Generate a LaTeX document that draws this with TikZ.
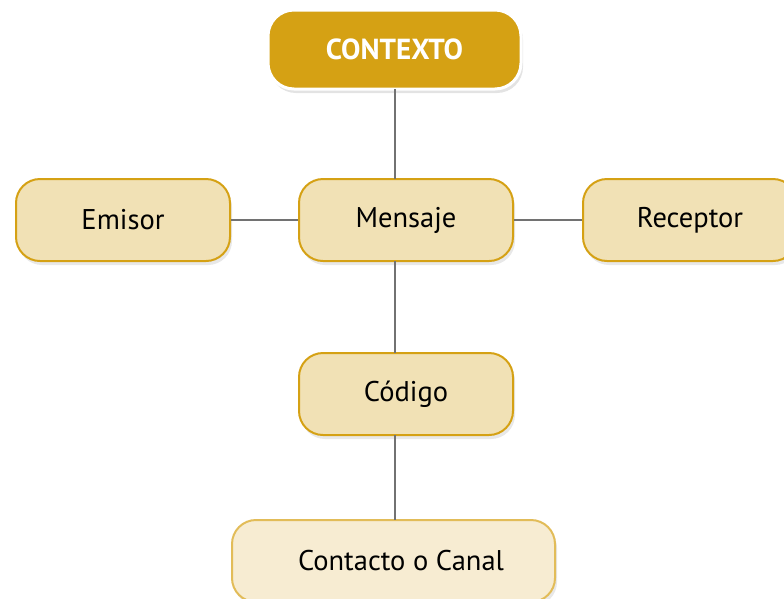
\documentclass[tikz,border=0pt]{standalone}
\usepackage{fontspec}
\setmainfont{PT Sans}
\usetikzlibrary{shadows}
\definecolor{gold}{HTML}{D5A114}
\definecolor{lightfill}{HTML}{F1E1B5}
\definecolor{paler}{HTML}{F7ECD2}
\definecolor{palebord}{HTML}{E2BC58}
\definecolor{linecol}{HTML}{727272}
\tikzset{
  box/.style={rounded corners=24pt, draw=gold, line width=2pt, fill=lightfill,
    minimum width=214pt, minimum height=82pt, font=\fontsize{28.5}{33}\selectfont, text=black,
    drop shadow={opacity=0.18, shadow xshift=2pt, shadow yshift=-4pt}},
  palebox/.style={box, fill=paler, draw=palebord},
  topbox/.style={rounded corners=26pt, draw=white, line width=3pt, fill=gold,
    minimum width=253pt, minimum height=79pt, font=\fontsize{29}{34}\selectfont\bfseries, text=white,
    drop shadow={opacity=0.22, shadow xshift=2pt, shadow yshift=-4pt}},
  conn/.style={draw=linecol, line width=2.8pt}
}
\begin{document}
\begin{tikzpicture}[x=1pt,y=1pt]
\useasboundingbox (0,0) rectangle (784,-598);
\node[topbox] (ctx) at (394.5,-49.5) {CONTEXTO};
\node[box] (emi) at (123,-220) {Emisor};
\node[box] (men) at (406,-220) {Mensaje};
\node[box] (rec) at (690,-220) {Receptor};
\node[box] (cod) at (406,-394) {Código};
\node[palebox, minimum width=323pt] (can) at (393.5,-561) {\hspace*{15pt}Contacto o Canal};
\coordinate (a1) at (395,-89);
\coordinate (a2) at (395,-179);
\coordinate (b1) at (395,-261);
\coordinate (b2) at (395,-353);
\coordinate (c1) at (395,-435);
\coordinate (c2) at (395,-520);
\draw[conn] (a1) -- (a2);
\draw[conn] (b1) -- (b2);
\draw[conn] (c1) -- (c2);
\draw[conn] (emi.east) -- (men.west);
\draw[conn] (men.east) -- (rec.west);
\end{tikzpicture}
\end{document}
